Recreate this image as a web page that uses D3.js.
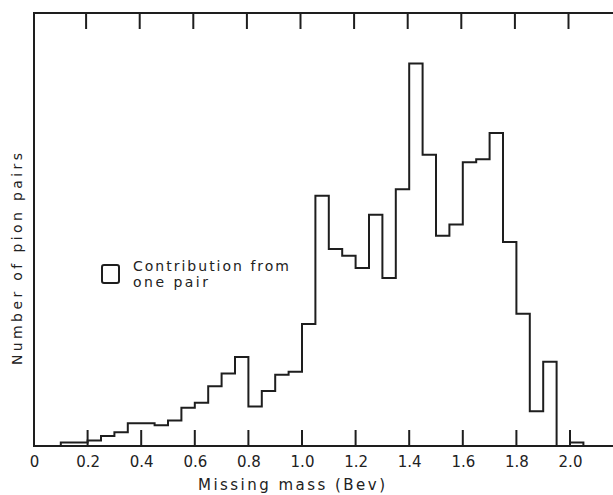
<!DOCTYPE html>
<html>
<head>
<meta charset="utf-8">
<script src="https://cdn.jsdelivr.net/npm/d3@7"></script>
<style>
  html, body { margin: 0; padding: 0; background: #fff; }
  svg { display: block; }
  text { font-family: "DejaVu Sans", sans-serif; fill: #222; }
</style>
</head>
<body>
<div id="chart"></div>
<script>
// Missing-mass histogram, bins 0.05 Bev wide (left edges)
const binStarts = [0.10, 0.15, 0.20, 0.25, 0.30, 0.35, 0.40, 0.45, 0.50, 0.55,
                   0.60, 0.65, 0.70, 0.75, 0.80, 0.85, 0.90, 0.95, 1.00, 1.05,
                   1.10, 1.15, 1.20, 1.25, 1.30, 1.35, 1.40, 1.45, 1.50, 1.55,
                   1.60, 1.65, 1.70, 1.75, 1.80, 1.85, 1.90, 1.95, 2.00];
const pairCounts = [1.0, 1.0, 1.6, 2.9, 4.0, 6.7, 6.7, 6.1, 7.5, 11.2,
                    12.7, 17.5, 21.3, 26.1, 11.6, 16.1, 20.9, 21.8, 35.8, 73.4,
                    57.8, 55.8, 52.2, 67.8, 49.3, 75.3, 112.2, 85.4, 61.7, 65.0,
                    83.2, 84.1, 91.8, 59.8, 38.8, 10.2, 24.7, 0, 1.0];
const binWidth = 0.05;
const tickValues = [0, 0.2, 0.4, 0.6, 0.8, 1.0, 1.2, 1.4, 1.6, 1.8, 2.0];
const tickLabels = ["0", "0.2", "0.4", "0.6", "0.8", "1.0", "1.2", "1.4", "1.6", "1.8", "2.0"];
const legendLines = ["Contribution from", "one pair"];

const W = 613, H = 495;
const plotLeft = 34, plotTop = 13, plotBottom = 446;
const ink = "#1e1e1e";

const svg = d3.select("#chart").append("svg")
    .attr("width", W)
    .attr("height", H);

const x = d3.scaleLinear().domain([0, 2]).range([plotLeft, 570]);
const y = d3.scaleLinear().domain([0, 127]).range([plotBottom, plotTop]);

// frame: left side, top and baseline run off the right edge
svg.append("path")
    .attr("d", `M${W},${plotTop}H${plotLeft}V${plotBottom}H${W}`)
    .attr("fill", "none")
    .attr("stroke", ink)
    .attr("stroke-width", 2);

// bottom tick labels
const xAxis = d3.axisBottom(x)
    .tickValues(tickValues)
    .tickSize(0)
    .tickPadding(10)
    .tickFormat((d, i) => tickLabels[i]);

const gx = svg.append("g")
    .attr("transform", `translate(0,${plotBottom})`)
    .call(xAxis);
gx.select(".domain").remove();
gx.selectAll("text")
    .attr("font-size", 15)
    .attr("font-family", "DejaVu Sans")
    .attr("fill", "#222");

// bottom ticks (pointing up)
svg.append("g").selectAll("line")
    .data(tickValues.filter(d => d > 0))
    .join("line")
    .attr("x1", d => x(d)).attr("x2", d => x(d))
    .attr("y1", plotBottom).attr("y2", plotBottom - 16)
    .attr("stroke", ink).attr("stroke-width", 2);

// top ticks (pointing down)
svg.append("g").selectAll("line")
    .data(tickValues.filter(d => d > 0))
    .join("line")
    .attr("x1", d => x(d) - 1.5).attr("x2", d => x(d) - 1.5)
    .attr("y1", plotTop).attr("y2", plotTop + 16)
    .attr("stroke", ink).attr("stroke-width", 2);

// histogram outline
const pts = [{ x: binStarts[0], v: 0 }]
    .concat(binStarts.map((b, i) => ({ x: b, v: pairCounts[i] })))
    .concat([{ x: binStarts[binStarts.length - 1] + binWidth, v: 0 }]);

const line = d3.line()
    .x(d => x(d.x))
    .y(d => y(d.v))
    .curve(d3.curveStepAfter);

svg.append("path")
    .datum(pts)
    .attr("d", line)
    .attr("fill", "none")
    .attr("stroke", ink)
    .attr("stroke-width", 2)
    .attr("stroke-linejoin", "miter");

// legend
svg.append("rect")
    .attr("x", 102).attr("y", 265)
    .attr("width", 17).attr("height", 18)
    .attr("rx", 2)
    .attr("fill", "none")
    .attr("stroke", ink)
    .attr("stroke-width", 2);

svg.append("text")
    .attr("x", 133).attr("y", 271)
    .attr("font-size", 14)
    .attr("textLength", 156)
    .attr("lengthAdjust", "spacing")
    .text(legendLines[0]);

svg.append("text")
    .attr("x", 133).attr("y", 287)
    .attr("font-size", 14)
    .attr("textLength", 75)
    .attr("lengthAdjust", "spacing")
    .text(legendLines[1]);

// axis titles
svg.append("text")
    .attr("x", 198).attr("y", 490)
    .attr("font-size", 15)
    .attr("textLength", 187)
    .attr("lengthAdjust", "spacing")
    .text("Missing mass (Bev)");

svg.append("text")
    .attr("transform", "translate(21.5,365) rotate(-90)")
    .attr("font-size", 14)
    .attr("textLength", 212)
    .attr("lengthAdjust", "spacing")
    .text("Number of pion pairs");
</script>
</body>
</html>
